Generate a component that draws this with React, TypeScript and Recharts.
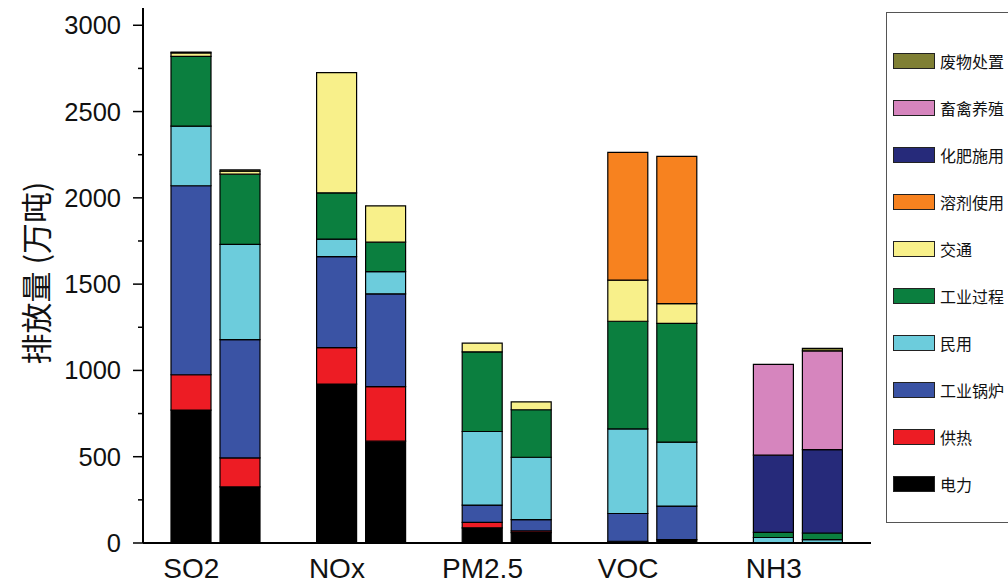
import React from 'react';
import { BarChart, Bar, XAxis, YAxis } from 'recharts';

if (typeof document !== 'undefined') {
  document.body.style.margin = '0';
}

const categories = ['SO2', 'NOx', 'PM2.5', 'VOC', 'NH3'];
const sources = ['电力', '供热', '工业锅炉', '民用', '工业过程', '交通', '溶剂使用', '化肥施用', '畜禽养殖', '废物处置'];
const colors = ['#000000', '#ED1C24', '#3A53A4', '#6CCCDC', '#0B7F3F', '#F8F08A', '#F7821F', '#262A7A', '#D685BE', '#7F7F34'];

// first bar of each pair
const power1 = [770, 921, 88, 10, 0];
const heat1 = [205, 211, 32, 0, 0];
const boiler1 = [1095, 527, 100, 161, 0];
const resid1 = [345, 102, 426, 490, 32];
const indus1 = [405, 268, 462, 624, 29];
const traffic1 = [20, 696, 50, 238, 0];
const solvent1 = [0, 0, 0, 740, 0];
const fert1 = [0, 0, 0, 0, 448];
const live1 = [0, 0, 0, 0, 526];
const waste1 = [5, 0, 0, 0, 0];

// second bar of each pair
const power2 = [325, 590, 60, 20, 0];
const heat2 = [168, 316, 10, 0, 0];
const boiler2 = [686, 538, 65, 194, 0];
const resid2 = [551, 129, 362, 370, 20];
const indus2 = [407, 170, 275, 689, 38];
const traffic2 = [17, 211, 46, 114, 0];
const solvent2 = [0, 0, 0, 853, 0];
const fert2 = [0, 0, 0, 0, 483];
const live2 = [0, 0, 0, 0, 572];
const waste2 = [8, 0, 0, 0, 15];

const first = [power1, heat1, boiler1, resid1, indus1, traffic1, solvent1, fert1, live1, waste1];
const second = [power2, heat2, boiler2, resid2, indus2, traffic2, solvent2, fert2, live2, waste2];

const yTicks = [0, 250, 500, 750, 1000, 1250, 1500, 1750, 2000, 2250, 2500, 2750, 3000];

const data = categories.map((cat, ci) => {
  const row: Record<string, any> = { cat };
  sources.forEach((s, si) => {
    row['a' + si] = first[si][ci];
    row['b' + si] = second[si][ci];
  });
  return row;
});

const numFont = '"Liberation Sans", Arial, sans-serif';
const cjkFont = '"Noto Sans CJK SC", "Noto Sans", sans-serif';

const BAR = 40;
const GAP = 9;

const YTick = (props: any) => {
  const { x, y, payload } = props;
  const major = payload.value % 500 === 0;
  return (
    <g>
      <line x1={x} x2={x - (major ? 10 : 5)} y1={y} y2={y} stroke="#000" strokeWidth={1.5} />
      {major && (
        <text x={x - 22} y={y} textAnchor="end" dominantBaseline="central" fontSize={25.5} fontFamily={numFont} fill="#111">
          {payload.value}
        </text>
      )}
    </g>
  );
};

// category labels sit under the first bar of each pair
const XTick = (props: any) => {
  const { x, y, payload } = props;
  return (
    <text x={x - (BAR + GAP) / 2} y={y} dy="0.71em" textAnchor="middle" fontSize={28} fontFamily={numFont} fill="#111">
      {payload.value}
    </text>
  );
};

const legendOrder = [9, 8, 7, 6, 5, 4, 3, 2, 1, 0];

export default function App() {
  return (
    <div style={{ position: 'relative', width: 1008, height: 583, overflow: 'hidden', background: '#fff' }}>
      <BarChart
        width={1008}
        height={583}
        data={data}
        margin={{ top: 8, right: 137, left: 0, bottom: 0 }}
        barSize={BAR}
        barGap={GAP}
      >
        <XAxis
          dataKey="cat"
          height={40}
          tickSize={0}
          tickMargin={15}
          axisLine={{ stroke: '#000', strokeWidth: 2 }}
          tick={<XTick />}
        />
        <XAxis xAxisId="top" dataKey="cat" orientation="top" height={0} tick={false} tickLine={false} axisLine={{ stroke: '#000', strokeWidth: 2 }} />
        <YAxis
          width={143}
          domain={[0, 3100]}
          ticks={yTicks}
          interval={0}
          tickSize={0}
          tickMargin={0}
          axisLine={{ stroke: '#000', strokeWidth: 2 }}
          tick={<YTick />}
        />
        <YAxis yAxisId="r" orientation="right" width={0} domain={[0, 3100]} tick={false} tickLine={false} axisLine={{ stroke: '#000', strokeWidth: 2 }} />
        {sources.map((s, si) => (
          <Bar key={'a' + si} dataKey={'a' + si} name={s} stackId="a" fill={colors[si]} stroke="#000" strokeWidth={1.2} isAnimationActive={false} />
        ))}
        {sources.map((s, si) => (
          <Bar key={'b' + si} dataKey={'b' + si} name={s} stackId="b" fill={colors[si]} stroke="#000" strokeWidth={1.2} isAnimationActive={false} />
        ))}
      </BarChart>
      <svg style={{ position: 'absolute', left: 0, top: 0 }} width={80} height={583}>
        <text
          x={0}
          y={0}
          transform="translate(48,273) rotate(-90)"
          textAnchor="middle"
          fontSize={31}
          fontFamily={cjkFont}
          fill="#111"
        >
          排放量 (万吨)
        </text>
      </svg>
      <div
        style={{
          position: 'absolute',
          left: 886,
          top: 12,
          width: 140,
          height: 511,
          border: '1px solid #555',
          boxSizing: 'border-box',
        }}
      >
        {legendOrder.map((si, i) => (
          <div
            key={si}
            style={{
              position: 'absolute',
              left: 6,
              top: 39 + i * 47.1,
              height: 17,
              display: 'flex',
              alignItems: 'center',
            }}
          >
            <div style={{ width: 42, height: 16, background: colors[si], border: '1px solid #222', boxSizing: 'border-box' }} />
            <span style={{ marginLeft: 5, fontSize: 16, fontFamily: cjkFont, color: '#111', whiteSpace: 'nowrap' }}>{sources[si]}</span>
          </div>
        ))}
      </div>
    </div>
  );
}
